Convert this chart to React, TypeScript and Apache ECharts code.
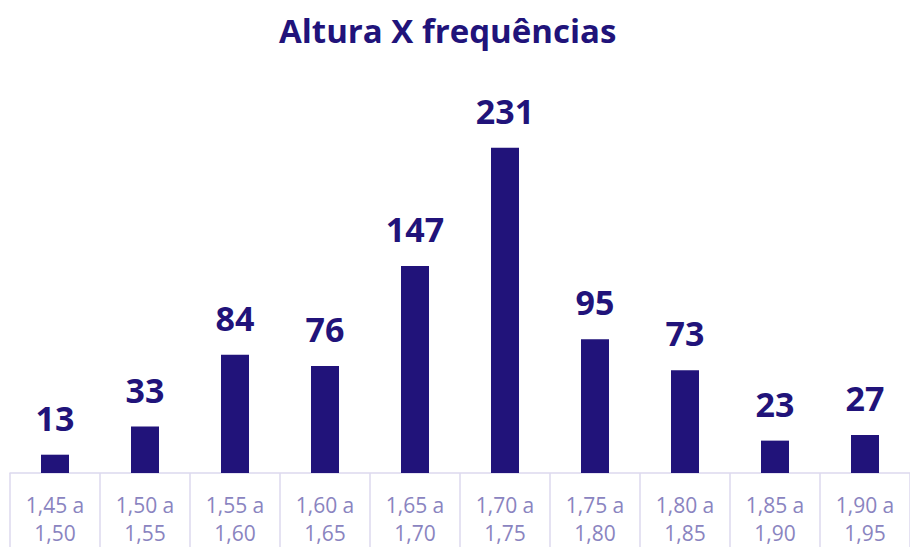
import React, { useEffect, useRef } from "react";
import * as echarts from "echarts";

const categories = [
  "1,45 a\n1,50",
  "1,50 a\n1,55",
  "1,55 a\n1,60",
  "1,60 a\n1,65",
  "1,65 a\n1,70",
  "1,70 a\n1,75",
  "1,75 a\n1,80",
  "1,80 a\n1,85",
  "1,85 a\n1,90",
  "1,90 a\n1,95",
];
const frequencies = [13, 33, 84, 76, 147, 231, 95, 73, 23, 27];

const NAVY = "#21137a";

export default function App() {
  const ref = useRef<HTMLDivElement>(null);
  useEffect(() => {
    if (!ref.current) return;
    const chart = echarts.init(ref.current, undefined, { renderer: "svg" });
    chart.setOption({
      animation: false,
      backgroundColor: "#ffffff",
      title: {
        text: "Altura X frequências",
        left: 274,
        top: 9,
        textStyle: {
          color: NAVY,
          fontFamily: "Open Sans",
          fontWeight: "bold",
          fontSize: 33,
        },
      },
      grid: { left: 10, right: -7, top: 100, bottom: 71, containLabel: false },
      xAxis: {
        type: "category",
        data: categories,
        axisLine: { lineStyle: { color: "#dcd9ee", width: 1.5 } },
        axisTick: {
          show: true,
          interval: 0,
          length: 75,
          lineStyle: { color: "#dcd9ee", width: 1.5 },
        },
        axisLabel: {
          interval: 0,
          margin: 18,
          color: "#8a84c0",
          fontFamily: "Open Sans",
          fontSize: 21,
          lineHeight: 28,
        },
      },
      yAxis: {
        type: "value",
        min: 0,
        max: 265,
        show: false,
        splitLine: { show: false },
      },
      series: [
        {
          type: "bar",
          data: frequencies,
          barWidth: 28,
          itemStyle: { color: NAVY },
          label: {
            show: true,
            position: "top",
            distance: 20,
            color: NAVY,
            fontFamily: "Open Sans",
            fontWeight: "bold",
            fontSize: 34,
          },
        },
      ],
    });
    return () => chart.dispose();
  }, []);
  return (
    <div
      ref={ref}
      style={{ position: "fixed", left: 0, top: 0, width: 910, height: 547 }}
    />
  );
}
